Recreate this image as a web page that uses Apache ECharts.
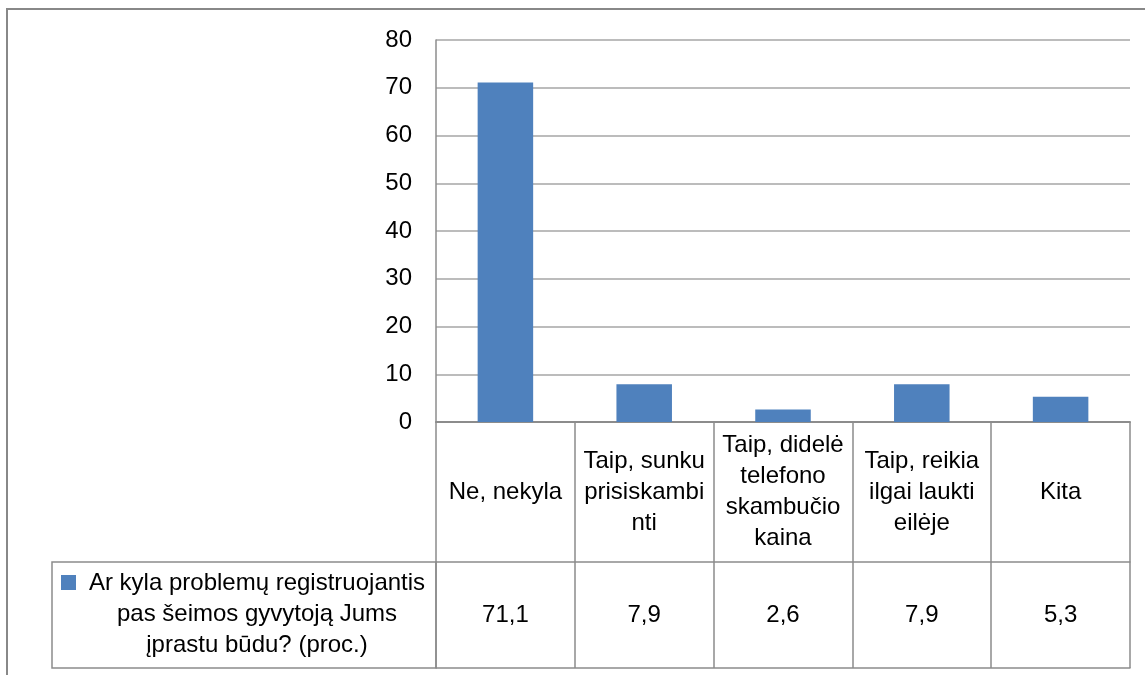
<!DOCTYPE html>
<html>
<head>
<meta charset="utf-8">
<script src="https://cdn.jsdelivr.net/npm/echarts@6/dist/echarts.min.js"></script>
<style>
  html, body { margin: 0; padding: 0; background: #fff; }
  #chart { width: 1145px; height: 675px; }
</style>
</head>
<body>
<div id="chart"></div>
<script>
// kategorijos (su eilučių laužymais kaip lentelėje)
const categories = [
  'Ne, nekyla',
  'Taip, sunku\nprisiskambi\nnti',
  'Taip, didelė\ntelefono\nskambučio\nkaina',
  'Taip, reikia\nilgai laukti\neilėje',
  'Kita'
]
const values = [71.1, 7.9, 2.6, 7.9, 5.3]
const seriesName = 'Ar kyla problemų registruojantis\npas šeimos gyvytoją Jums\nįprastu būdu? (proc.)'

const FONT = '"Liberation Sans", Arial, sans-serif'
const lineColor = '#8c8c8c'
const gridColor = '#a6a6a6'

const chart = echarts.init(document.getElementById('chart'))

chart.setOption({
  animation: false,
  textStyle: { fontFamily: FONT },
  grid: { left: 436, right: 15, top: 40, bottom: 253 },
  yAxis: {
    type: 'value',
    min: 0,
    max: 80,
    interval: 10,
    axisLine: { show: true, lineStyle: { color: lineColor, width: 1.5 } },
    axisTick: { show: false },
    axisLabel: { fontSize: 24, color: '#000', margin: 24, fontFamily: FONT },
    splitLine: { lineStyle: { color: gridColor, width: 1.5 } }
  },
  xAxis: [
    {
      type: 'category',
      data: categories,
      axisLine: { lineStyle: { color: lineColor, width: 2 } },
      axisTick: { show: true, interval: 0, length: 246, lineStyle: { color: lineColor, width: 1.5 } },
      axisLabel: {
        interval: 0,
        fontSize: 24,
        lineHeight: 31,
        color: '#000',
        margin: 70,
        verticalAlign: 'middle',
        fontFamily: FONT
      }
    },
    {
      type: 'category',
      data: categories,
      position: 'bottom',
      offset: 140,
      axisLine: { lineStyle: { color: lineColor, width: 1.5 } },
      axisTick: { show: false },
      axisLabel: {
        interval: 0,
        fontSize: 24,
        color: '#000',
        margin: 53,
        verticalAlign: 'middle',
        fontFamily: FONT,
        formatter: (v, i) => values[i].toFixed(1).replace('.', ',')
      }
    },
    {
      type: 'category',
      data: categories,
      position: 'bottom',
      offset: 246,
      axisLine: { lineStyle: { color: lineColor, width: 1.5 } },
      axisTick: { show: false },
      axisLabel: { show: false }
    }
  ],
  series: [
    {
      name: seriesName,
      type: 'bar',
      xAxisIndex: 0,
      data: values,
      barWidth: '40%',
      itemStyle: { color: '#4F81BD' }
    }
  ],
  graphic: [
    // išorinis rėmelis
    {
      type: 'rect',
      shape: { x: 7, y: 9, width: 1170, height: 700 },
      style: { fill: 'none', stroke: '#888', lineWidth: 2 },
      silent: true
    },
    // legendos langelis
    {
      type: 'rect',
      shape: { x: 52, y: 562, width: 384, height: 106 },
      style: { fill: 'none', stroke: lineColor, lineWidth: 1.5 },
      silent: true
    },
    {
      type: 'rect',
      shape: { x: 61, y: 575, width: 15, height: 15 },
      style: { fill: '#4F81BD' },
      silent: true
    },
    {
      type: 'text',
      x: 257,
      y: 614,
      style: {
        text: seriesName,
        fontSize: 24,
        lineHeight: 31,
        fontFamily: FONT,
        fill: '#000',
        align: 'center',
        verticalAlign: 'middle'
      },
      silent: true
    }
  ]
})
</script>
</body>
</html>
